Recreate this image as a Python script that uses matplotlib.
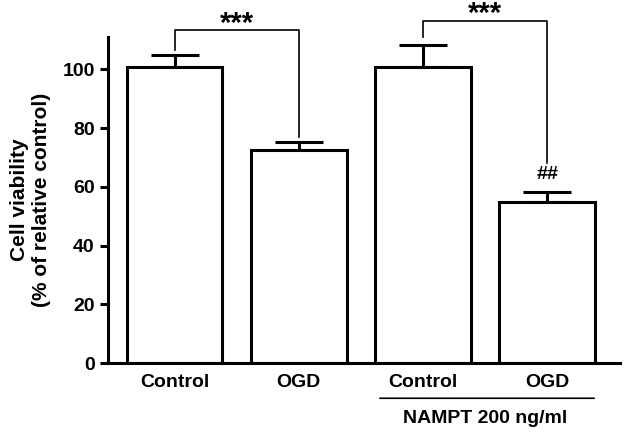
import matplotlib.pyplot as plt

groups = ['Control', 'OGD', 'Control', 'OGD']
means = [100.8, 72.7, 100.7, 55.0]
errs = [4.0, 2.4, 7.5, 3.4]

plt.rcParams['font.family'] = ['Liberation Sans', 'DejaVu Sans']
plt.rcParams['font.weight'] = 'bold'

fig = plt.figure(figsize=(6.44, 4.36), dpi=100)
ax = fig.add_axes([0.1677, 0.1674, 0.795, 0.7476])

x = list(range(len(groups)))
ax.bar(x, means, width=0.77, color='white', edgecolor='black', linewidth=2.2, zorder=2)
ax.errorbar(x, means, yerr=[[0] * len(errs), errs], fmt='none', ecolor='black',
            elinewidth=2.2, capsize=17.5, capthick=2.2, zorder=1)

ax.set_xlim(-0.536, 3.585)
ax.set_ylim(0, 111)
ax.set_yticks([0, 20, 40, 60, 80, 100])
ax.set_xticks(x)
ax.set_xticklabels(groups)
ax.tick_params(axis='both', labelsize=14, width=2.2, length=6)
ax.tick_params(axis='x', length=0, pad=8)
for s in ['top', 'right']:
    ax.spines[s].set_visible(False)
for s in ['left', 'bottom']:
    ax.spines[s].set_linewidth(2.2)

ax.set_ylabel('Cell viability\n(% of relative control)', fontsize=15, fontweight='bold', labelpad=8)

# significance brackets
def bracket(x1, x2, ytop, y1, y2, label, ystar):
    ax.plot([x1, x1, x2, x2], [y1, ytop, ytop, y2], color='black', lw=1.2, clip_on=False)
    ax.text((x1 + x2) / 2, ystar, label, ha='center', va='center', fontsize=21,
            fontweight='bold')

bracket(0, 1, 113.5, 106.5, 77, '***', 115.5)
bracket(2, 3, 116.6, 111, 68, '***', 118.8)
ax.text(3, 64.3, '##', ha='center', va='center', fontsize=14, fontweight='bold')

# NAMPT group line
ax.annotate('', xy=(1.63, -12.0), xytext=(3.4, -12.0), xycoords='data',
            arrowprops=dict(arrowstyle='-', lw=1.2, color='black'), annotation_clip=False)
ax.text(2.5, -18.8, 'NAMPT 200 ng/ml', ha='center', va='center', fontsize=14,
        fontweight='bold', clip_on=False)

fig.savefig('out.png', dpi=100)
